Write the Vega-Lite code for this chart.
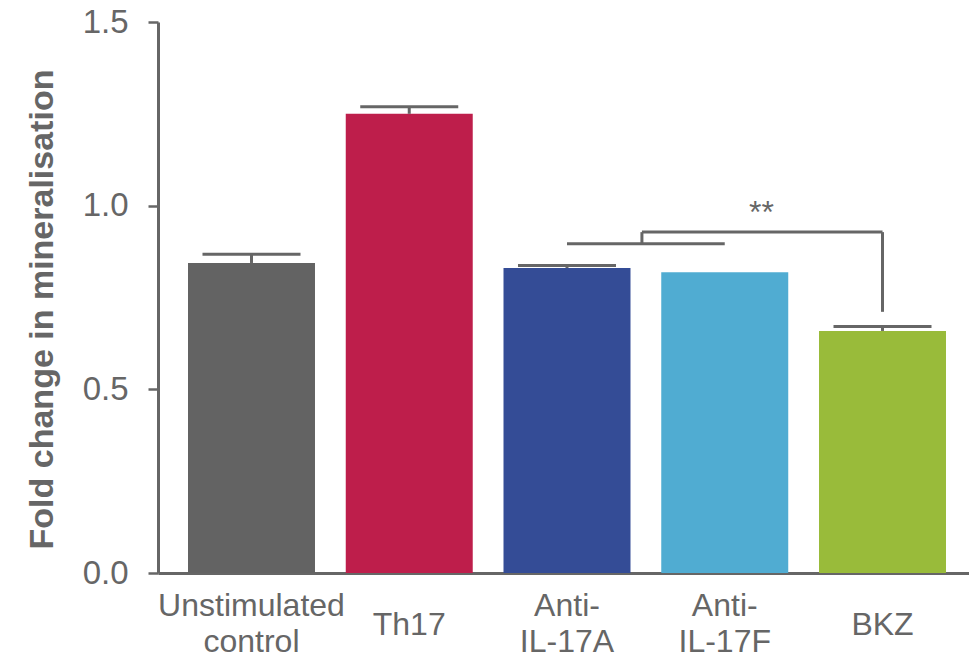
{
  "$schema": "https://vega.github.io/schema/vega-lite/v6.json",
  "width": 811,
  "height": 551,
  "autosize": {"type": "none"},
  "padding": {"left": 158, "top": 22, "right": 0, "bottom": 85},
  "background": "white",
  "config": {"view": {"stroke": null}, "font": "Liberation Sans"},
  "data": {
    "values": [
      {"group": "Unstimulated control", "mean": 0.844, "upper": 0.868},
      {"group": "Th17", "mean": 1.25, "upper": 1.269},
      {"group": "Anti-IL-17A", "mean": 0.83, "upper": 0.837},
      {"group": "Anti-IL-17F", "mean": 0.819, "upper": null},
      {"group": "BKZ", "mean": 0.659, "upper": 0.671}
    ]
  },
  "layer": [
    {
      "mark": {"type": "bar"},
      "encoding": {
        "x": {
          "field": "group",
          "type": "nominal",
          "sort": null,
          "title": null,
          "scale": {
            "domain": ["Unstimulated control", "Th17", "Anti-IL-17A", "Anti-IL-17F", "BKZ"],
            "paddingInner": 0.195,
            "paddingOuter": 0.168,
            "align": 0.566
          },
          "axis": {
            "title": null,
            "labelAngle": 0,
            "ticks": false,
            "tickSize": 0,
            "domainColor": "#666666",
            "domainWidth": 3,
            "labelFontSize": 32,
            "labelColor": "#666666",
            "labelPadding": {"condition": {"test": "datum.value == 'Th17' || datum.value == 'BKZ'", "value": 51}, "value": 32},
            "labelBaseline": "middle",
            "labelLineHeight": 36,
            "labelLimit": 300,
            "labelExpr": "datum.value == 'Unstimulated control' ? ['Unstimulated', 'control'] : datum.value == 'Anti-IL-17A' ? ['Anti-', 'IL-17A'] : datum.value == 'Anti-IL-17F' ? ['Anti-', 'IL-17F'] : datum.value"
          }
        },
        "y": {
          "field": "mean",
          "type": "quantitative",
          "title": "Fold change in mineralisation",
          "scale": {"domain": [0, 1.5], "nice": false},
          "axis": {
            "title": "Fold change in mineralisation",
            "titleFontSize": 34,
            "titleFontWeight": "bold",
            "titleColor": "#666666",
            "titleX": -106,
            "titleY": 287,
            "titleBaseline": "alphabetic",
            "titleAngle": -90,
            "titleAlign": "center",
            "values": [0, 0.5, 1, 1.5],
            "format": ".1f",
            "grid": false,
            "tickSize": 10,
            "tickWidth": 2.5,
            "tickColor": "#666666",
            "domainColor": "#666666",
            "domainWidth": 3,
            "labelFontSize": 33,
            "labelColor": "#666666",
            "labelPadding": 20
          }
        },
        "color": {
          "field": "group",
          "type": "nominal",
          "legend": null,
          "scale": {
            "domain": ["Unstimulated control", "Th17", "Anti-IL-17A", "Anti-IL-17F", "BKZ"],
            "range": ["#636363", "#be1e4b", "#344c96", "#50acd2", "#99bb3a"]
          }
        }
      }
    },
    {
      "transform": [{"filter": "isValid(datum.upper)"}],
      "mark": {"type": "rule", "color": "#666666", "strokeWidth": 3},
      "encoding": {
        "x": {"field": "group", "type": "nominal", "title": null},
        "y": {"field": "mean", "type": "quantitative", "title": "Fold change in mineralisation"},
        "y2": {"field": "upper"}
      }
    },
    {
      "transform": [{"filter": "isValid(datum.upper)"}],
      "mark": {"type": "tick", "color": "#666666", "size": 98, "thickness": 3, "orient": "horizontal", "opacity": 1},
      "encoding": {
        "x": {"field": "group", "type": "nominal", "title": null},
        "y": {"field": "upper", "type": "quantitative", "title": "Fold change in mineralisation"}
      }
    },
    {
      "data": {"values": [{"group": "Anti-IL-17A", "group2": "Anti-IL-17F", "y": 0.896}]},
      "mark": {"type": "rule", "color": "#666666", "strokeWidth": 3},
      "encoding": {
        "x": {"field": "group", "type": "nominal", "title": null},
        "x2": {"field": "group2"},
        "y": {"field": "y", "type": "quantitative", "title": "Fold change in mineralisation"}
      }
    },
    {
      "data": {"values": [{"group": "Anti-IL-17A", "y": 0.896, "y2": 0.928}]},
      "mark": {"type": "rule", "color": "#666666", "strokeWidth": 3},
      "encoding": {
        "x": {"field": "group", "type": "nominal", "title": null, "bandPosition": 1.09},
        "y": {"field": "y", "type": "quantitative", "title": "Fold change in mineralisation"},
        "y2": {"field": "y2"}
      }
    },
    {
      "data": {"values": [{"group": "Anti-IL-17A", "group2": "BKZ", "y": 0.928}]},
      "mark": {"type": "rule", "color": "#666666", "strokeWidth": 3},
      "encoding": {
        "x": {"field": "group", "type": "nominal", "title": null, "bandPosition": 1.09},
        "x2": {"field": "group2", "bandPosition": 0.5},
        "y": {"field": "y", "type": "quantitative", "title": "Fold change in mineralisation"}
      }
    },
    {
      "data": {"values": [{"group": "BKZ", "y": 0.711, "y2": 0.928}]},
      "mark": {"type": "rule", "color": "#666666", "strokeWidth": 3},
      "encoding": {
        "x": {"field": "group", "type": "nominal", "title": null},
        "y": {"field": "y", "type": "quantitative", "title": "Fold change in mineralisation"},
        "y2": {"field": "y2"}
      }
    },
    {
      "data": {"values": [{"group": "Anti-IL-17F", "y": 0.953, "text": "**"}]},
      "mark": {"type": "text", "color": "#666666", "fontSize": 32, "baseline": "alphabetic", "align": "center"},
      "encoding": {
        "x": {"field": "group", "type": "nominal", "title": null, "bandPosition": 0.79},
        "y": {"field": "y", "type": "quantitative", "title": "Fold change in mineralisation"},
        "text": {"field": "text"}
      }
    }
  ]
}
